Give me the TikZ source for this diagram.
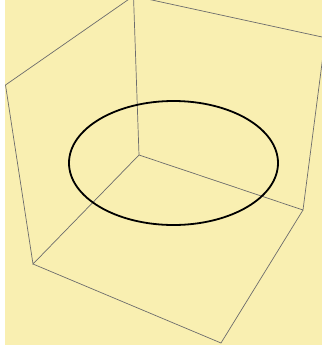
\documentclass[tikz,border=0pt]{standalone}
\definecolor{fondo}{RGB}{249,239,177}
\begin{document}
\begin{tikzpicture}[x=1pt,y=-1pt]
  % Definir estilos
  \tikzset{
    arista/.style={gray!85!black, line width=0.7pt},
    circulo/.style={black, line width=1.8pt}
  }

  % Marco de la imagen
  \useasboundingbox[fill=white] (0,0) rectangle (322,349);
  \fill[fondo] (5,0) rectangle (322,345);

  % Vertices de la caja
  \coordinate (arriba) at (133.5,-4);
  \coordinate (izq_arriba) at (5.5,85);
  \coordinate (izq_abajo) at (33,264);
  \coordinate (fondo_c) at (139,155);
  \coordinate (der_abajo) at (303,210);
  \coordinate (der_arriba) at (325.3,37.7);
  \coordinate (frente) at (221,343);

  \begin{scope}
    \clip (5,0) rectangle (322,345);
    % Pared izquierda
    \draw[arista] (fondo_c) -- (arriba) -- (izq_arriba) -- (izq_abajo) -- cycle;
    % Pared del fondo
    \draw[arista] (arriba) -- (der_arriba) -- (der_abajo) -- (fondo_c);
    % Piso
    \draw[arista] (izq_abajo) -- (frente) -- (der_abajo);
  \end{scope}

  % Circunferencia
  \draw[circulo] (173.5,163) ellipse (104.5 and 62);
\end{tikzpicture}
\end{document}
